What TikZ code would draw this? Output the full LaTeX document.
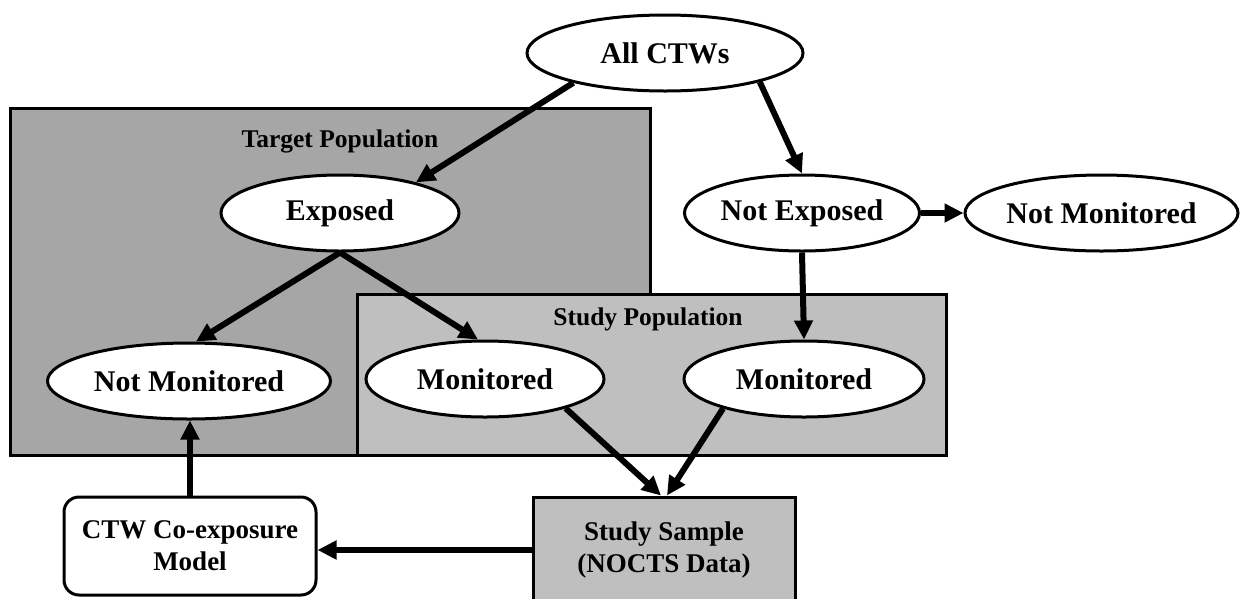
\documentclass[tikz,border=0pt]{standalone}
\usepackage{fontspec}
\setmainfont{Liberation Serif}
\usetikzlibrary{shapes.geometric,arrows.meta}

\begin{document}
\begin{tikzpicture}[x=1pt,y=-1pt]

\tikzstyle{ELL} = [ellipse, draw=black, line width=3pt, fill=white, minimum height=76pt, inner sep=0pt, font=\fontsize{30}{34}\selectfont\bfseries]
\tikzstyle{CONT} = [rectangle, draw=black, line width=3pt, inner sep=0pt]
\tikzstyle{BOX} = [rectangle, draw=black, line width=3pt, inner sep=0pt, align=center, font=\fontsize{27}{32}\selectfont\bfseries]
\tikzstyle{LBL} = [font=\fontsize{25.5}{30}\selectfont\bfseries]
\tikzstyle{arrow} = [line width=6pt, -{Triangle[length=19pt,width=18pt]}]

\useasboundingbox (0,0) rectangle (1240,598);

% containers
\node (TARGET) [CONT, fill=black!35, minimum width=640pt, minimum height=347pt] at (330,281.5) {};
\node [LBL] at (340,141) {Target Population};
\node (STUDY) [CONT, fill=black!25, minimum width=589pt, minimum height=161pt] at (651.5,374.5) {};
\node [LBL] at (648,319) {Study Population};

% ellipses
\node (ALL) [ELL, minimum width=276pt] at (665,53) {All CTWs};
\node (EXP) [ELL, minimum width=238pt] at (340,213) {Exposed};
\node (NEXP) [ELL, minimum width=235pt] at (802,213) {Not Exposed};
\node (NMR) [ELL, minimum width=273pt] at (1101.5,213) {Not Monitored};
\node (NML) [ELL, minimum width=283pt] at (189,381) {Not Monitored};
\node (MONL) [ELL, minimum width=238pt] at (485,379) {Monitored};
\node (MONR) [ELL, minimum width=240pt] at (804,379) {Monitored};

% boxes
\node (SS) [BOX, fill=black!25, minimum width=262pt, minimum height=106pt] at (664,550) {Study Sample\\(NOCTS Data)};
\node (CTW) [BOX, rounded corners=15pt, fill=white, minimum width=252pt, minimum height=98pt] at (190,546) {CTW Co-exposure\\Model};

\draw[arrow] (ALL.198) to (EXP.22);
\draw[arrow] (ALL.343) to (NEXP.north);
\draw[arrow] (NEXP.east) to (NMR.west);
\draw[arrow] (NEXP.south) to (MONR.north);
\draw[arrow] (EXP.south) to (NML.80);
\draw[arrow] (EXP.south) to (MONL.100);
\draw[arrow] (MONL.340) to ([xshift=-3pt]SS.north);
\draw[arrow] (MONR.200) to ([xshift=3pt]SS.north);
\draw[arrow] (SS.west) to (SS.west -| CTW.east);
\draw[arrow] (CTW.north) to (CTW.north |- NML.south);

\end{tikzpicture}
\end{document}
